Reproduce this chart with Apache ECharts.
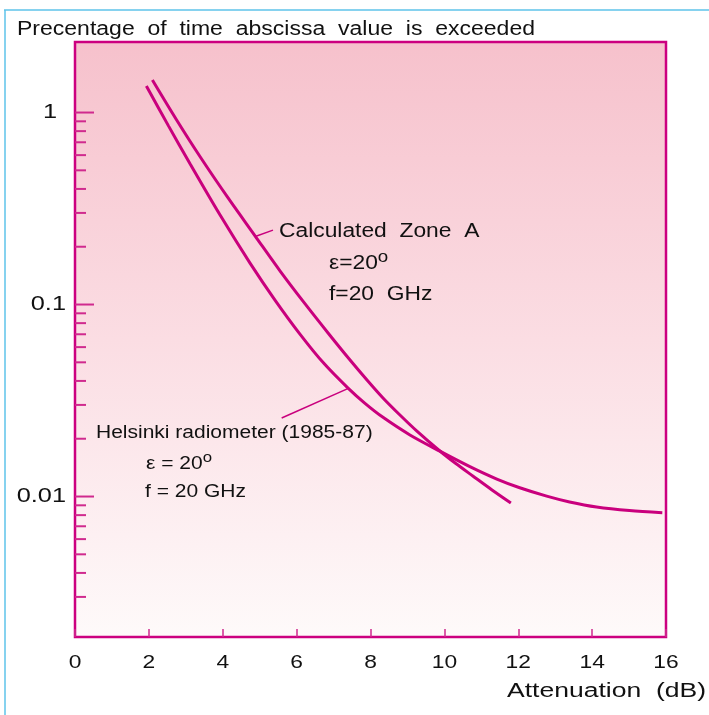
<!DOCTYPE html>
<html><head><meta charset="utf-8">
<script src="https://cdn.jsdelivr.net/npm/echarts@6/dist/echarts.min.js"></script>
<style>html,body{margin:0;padding:0;background:#fff}#c{width:709px;height:715px}</style>
</head><body><div id="c"></div>
<script>
// ---- data ----
const calcX = [2.095, 2.743, 3.392, 4.149, 4.878, 5.554, 6.230, 6.851, 7.446, 7.905, 8.338, 8.797, 9.257, 9.878, 10.31, 10.77, 11.28, 11.80];
const calcY = [1.476, 0.9195, 0.5864, 0.3578, 0.2274, 0.1494, 0.1007, 0.0711, 0.0514, 0.04045, 0.0326, 0.02657, 0.0219, 0.01726, 0.01485, 0.01279, 0.01085, 0.00925];
const helX = [1.932, 2.527, 3.122, 3.932, 4.743, 5.419, 6.095, 6.743, 7.392, 7.851, 8.338, 9.068, 9.878, 10.69, 11.42, 12.04, 12.77, 13.39, 14.12, 15.01, 15.90];
const helY = [1.374, 0.8548, 0.5374, 0.2914, 0.1639, 0.1052, 0.06996, 0.04923, 0.03669, 0.03057, 0.02585, 0.02093, 0.01723, 0.01431, 0.01233, 0.01111, 0.01005, 0.00937, 0.00882, 0.00845, 0.00824];
const calcLeader = [[4.88, 0.226], [5.36, 0.244]];
const helLeader = [[5.595, 0.02564], [7.40, 0.0366]];
const xTicks = [0, 2, 4, 6, 8, 10, 12, 14, 16];
const xTickLabels = ['0', '2', '4', '6', '8', '10', '12', '14', '16'];
const yMajor = [1, 0.1, 0.01];
const yMajorLabels = ['1', '0.1', '0.01'];
const yMinor = [0.9, 0.8, 0.7, 0.6, 0.5, 0.4, 0.3, 0.2,
                0.09, 0.08, 0.07, 0.06, 0.05, 0.04, 0.03, 0.02,
                0.009, 0.008, 0.007, 0.006, 0.005, 0.004, 0.003];
const xMin = 0, xMax = 16, yMin = 0.001855, yMax = 2.33;
const titleText = 'Precentage  of  time  abscissa  value  is  exceeded';
const xName = 'Attenuation  (dB)';
const calcLines = ['Calculated  Zone  A', '{m|ε=20}{o|o}', 'f=20  GHz'];
const helLines = ['Helsinki radiometer (1985-87)', '{m|ε = 20}{o|o}', 'f = 20 GHz'];

// ---- style ----
const MAG = '#c9007d';
const FRAME = '#cc0080';
const TICK = '#d02a8e';
const FONT = '"Liberation Sans", Arial, sans-serif';
const TXT = '#111111';

const chart = echarts.init(document.getElementById('c'));

function pairs(xs, ys) { return xs.map((x, i) => [x, ys[i]]); }

function txt(x, y, text, size, sx, align) {
  return {
    type: 'text', x: x, y: y, scaleX: sx, z: 100,
    style: {
      text: text, fontSize: size, fontFamily: FONT, fill: TXT,
      align: align || 'left', verticalAlign: 'middle',
      rich: {
        m: { fontSize: size, fontFamily: FONT, fill: TXT, verticalAlign: 'middle' },
        o: { fontSize: Math.round(size * 0.82), fontFamily: FONT, fill: TXT, verticalAlign: 'bottom', padding: [0, 0, Math.round(size * 0.6), 0] }
      }
    }
  };
}

const option = {
  animation: false,
  backgroundColor: '#ffffff',
  grid: {
    left: 75, right: 43, top: 42, bottom: 78, show: true,
    borderColor: FRAME, borderWidth: 2.5,
    backgroundColor: new echarts.graphic.LinearGradient(0, 0, 0, 1, [
      { offset: 0, color: '#f6c1cc' },
      { offset: 0.5, color: '#fbdde3' },
      { offset: 1, color: '#fefafa' }
    ])
  },
  xAxis: {
    type: 'value', min: xMin, max: xMax, interval: 2,
    axisLine: { show: false, onZero: false },
    axisTick: { show: true, inside: true, length: 8, lineStyle: { color: TICK, width: 1.5 } },
    axisLabel: { show: false },
    splitLine: { show: false }
  },
  yAxis: {
    type: 'log', logBase: 10, min: yMin, max: yMax,
    axisLine: { show: false },
    axisTick: { show: false },
    axisLabel: { show: false },
    splitLine: { show: false },
    minorTick: { show: false }
  },
  graphic: [
    { type: 'line', shape: { x1: 4, y1: 10, x2: 709, y2: 10 }, style: { stroke: '#5ec3ea', lineWidth: 1.5 } },
    { type: 'line', shape: { x1: 5, y1: 10, x2: 5, y2: 715 }, style: { stroke: '#5ec3ea', lineWidth: 1.5 } },
    txt(17, 30, titleText, 19.5, 1.18),
    txt(706, 692, xName, 19.5, 1.36, 'right'),
    txt(279, 232, calcLines[0], 19.5, 1.17),
    txt(329, 264, calcLines[1], 19.5, 1.17),
    txt(329, 295, calcLines[2], 19.5, 1.17),
    txt(96, 433, helLines[0], 17.5, 1.2),
    txt(146, 464, helLines[1], 17.5, 1.2),
    txt(145, 492, helLines[2], 17.5, 1.2)
  ],
  series: [
    {
      name: 'Calculated Zone A', type: 'line', data: pairs(calcX, calcY),
      smooth: 0.3, showSymbol: false, symbol: 'none',
      lineStyle: { color: MAG, width: 3 },
      markLine: {
        silent: true, symbol: 'none', label: { show: false },
        lineStyle: { color: MAG, width: 1.5, type: 'solid' },
        data: [[{ coord: calcLeader[0] }, { coord: calcLeader[1] }]]
      }
    },
    {
      name: 'Helsinki radiometer', type: 'line', data: pairs(helX, helY),
      smooth: 0.3, showSymbol: false, symbol: 'none',
      lineStyle: { color: MAG, width: 3 },
      markLine: {
        silent: true, symbol: 'none', label: { show: false },
        lineStyle: { color: MAG, width: 1.5, type: 'solid' },
        data: [[{ coord: helLeader[0] }, { coord: helLeader[1] }]]
      }
    },
    {
      type: 'custom', clip: false, silent: true,
      data: yMinor.map(v => [xMin, v]), encode: { x: 0, y: 1 },
      renderItem: (params, api) => {
        const p = api.coord([xMin, api.value(1)]);
        return { type: 'line', shape: { x1: p[0], y1: p[1], x2: p[0] + 11, y2: p[1] }, style: { stroke: TICK, lineWidth: 2 } };
      }
    },
    {
      type: 'custom', clip: false, silent: true,
      data: yMajor.map((v, i) => [xMin, v, i]), encode: { x: 0, y: 1 },
      renderItem: (params, api) => {
        const v = api.value(1);
        const p = api.coord([xMin, v]);
        const lab = yMajorLabels[params.dataIndex];
        const right = v >= 1 ? p[0] - 18 : p[0] - 9;
        return {
          type: 'group', children: [
            { type: 'line', shape: { x1: p[0], y1: p[1], x2: p[0] + 19, y2: p[1] }, style: { stroke: TICK, lineWidth: 2 } },
            { type: 'text', x: right, y: p[1], scaleX: 1.3,
              style: { text: lab, fontSize: 19.5, fontFamily: FONT, fill: TXT, align: 'right', verticalAlign: 'middle' } }
          ]
        };
      }
    },
    {
      type: 'custom', clip: false, silent: true,
      data: xTicks.map((v, i) => [v, yMin, i]), encode: { x: 0, y: 1 },
      renderItem: (params, api) => {
        const p = api.coord([api.value(0), yMin]);
        return { type: 'text', x: p[0], y: p[1] + 26, scaleX: 1.2,
          style: { text: xTickLabels[params.dataIndex], fontSize: 19, fontFamily: FONT, fill: TXT, align: 'center', verticalAlign: 'middle' } };
      }
    }
  ]
};
chart.setOption(option);
</script>
</body></html>
